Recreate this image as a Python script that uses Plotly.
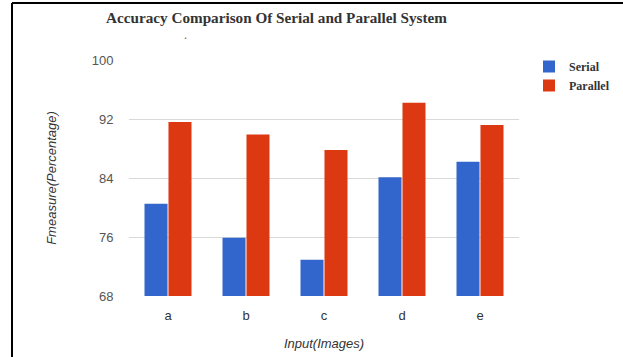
import plotly.graph_objects as go

categories = ["a", "b", "c", "d", "e"]
serial = [80.5, 75.9, 72.9, 84.1, 86.2]
parallel = [91.6, 89.9, 87.8, 94.2, 91.2]
y_ticks = [68, 76, 84, 92, 100]

W, H = 623, 357
L, R, T, B = 129, 104, 60, 61

fig = go.Figure()
fig.add_trace(go.Bar(x=categories, y=serial, name="Serial",
                     marker=dict(color="#3366CC", line=dict(width=0))))
fig.add_trace(go.Bar(x=categories, y=parallel, name="Parallel",
                     marker=dict(color="#DC3912", line=dict(width=0))))

pw = W - L - R
ph = H - T - B
def px_x(p):
    return (p - L) / pw
def px_y(p):
    return (H - B - p) / ph

fig.update_layout(
    width=W, height=H,
    margin=dict(l=L, r=R, t=T, b=B, autoexpand=False),
    paper_bgcolor="white", plot_bgcolor="white",
    barmode="group", bargap=0.385, bargroupgap=0.04,
    title=dict(text="Accuracy Comparison Of Serial and Parallel System",
               x=276.5 / W, xanchor="center", y=1 - 17.7 / H, yanchor="middle",
               font=dict(family="Liberation Serif", size=15.2, color="#333333", weight="bold")),
    legend=dict(x=px_x(529), xanchor="left", y=px_y(52), yanchor="top",
                font=dict(family="Liberation Serif", size=12, color="#333333", weight="bold"),
                bgcolor="rgba(0,0,0,0)", tracegroupgap=0),
    xaxis=dict(
        automargin=False,
        tickfont=dict(family="Liberation Sans", size=13, color="#333333"),
        showgrid=False, showline=False, ticks="outside", ticklen=7, tickcolor="rgba(0,0,0,0)",
        title=dict(text="<i>Input(Images)</i>", standoff=17,
                   font=dict(family="Liberation Sans", size=13, color="#333333")),
    ),
    yaxis=dict(
        automargin=False,
        range=[68, 100], tickvals=y_ticks, ticktext=[str(v) for v in y_ticks],
        tickfont=dict(family="Liberation Sans", size=13, color="#555555"),
        showgrid=True, gridcolor="#d9d9d9", gridwidth=1, zeroline=False, showline=False,
        ticks="outside", ticklen=12, tickcolor="rgba(0,0,0,0)",
        title=dict(text="<i>Fmeasure(Percentage)</i>", standoff=32,
                   font=dict(family="Liberation Sans", size=13, color="#333333")),
    ),
    annotations=[dict(text=".", x=px_x(182), y=px_y(38), xref="paper", yref="paper",
                      showarrow=False, yanchor="bottom", yshift=-6,
                      font=dict(family="Liberation Serif", size=12, color="#555555"))],
    shapes=[
        dict(type="line", xref="paper", yref="paper", x0=px_x(12), x1=px_x(12),
             y0=px_y(H + 2), y1=px_y(3), line=dict(color="black", width=2)),
        dict(type="line", xref="paper", yref="paper", x0=px_x(12), x1=px_x(W + 2),
             y0=px_y(3), y1=px_y(3), line=dict(color="black", width=2)),
    ],
)

fig.write_html("out.html", config={"displayModeBar": False},
               post_script="document.body.style.margin='0';")
